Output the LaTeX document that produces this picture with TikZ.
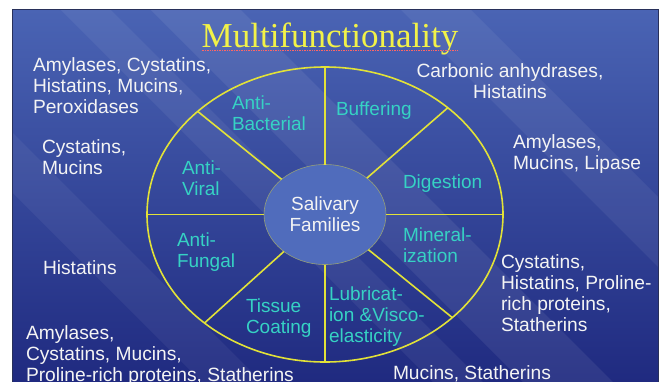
\documentclass[tikz,border=0pt]{standalone}
\usepackage{fontspec}
\setmainfont{Liberation Sans}
\newfontfamily\titlefont{Liberation Serif}
\usepackage{tikz}
\usetikzlibrary{shapes}
\usetikzlibrary{positioning}
\definecolor{slidetop}{RGB}{74,100,180}
\definecolor{slidebot}{RGB}{30,40,126}
\definecolor{slideedge}{RGB}{40,48,90}
\definecolor{rimyellow}{RGB}{226,226,56}
\definecolor{titleyellow}{RGB}{242,242,72}
\definecolor{labelteal}{RGB}{54,210,196}
\definecolor{hubblue}{RGB}{80,108,188}
\definecolor{hubedge}{RGB}{150,160,120}
\definecolor{offwhite}{RGB}{244,244,244}

\begin{document}
\begin{tikzpicture}[x=1pt, y=-1pt,
  every node/.style={inner sep=0pt, outer sep=0pt},
  famtext/.style={anchor=base west, align=left, text=offwhite, font=\fontsize{19.2}{21}\selectfont},
  funclabel/.style={anchor=base west, align=left, text=labelteal, font=\fontsize{19}{21}\selectfont},
  spoke/.style={color=rimyellow, line width=1.6pt}]
%
\fill[white] (0,0) rectangle (662,381);
\useasboundingbox (0,0) rectangle (662,381);

%
\begin{scope}
\clip (12,9) rectangle (658,395);
\shade[top color=slidetop, bottom color=slidebot] (12,9) rectangle (658,395);
\fill[white, opacity=0.06] (60,9) -- (110,9) -- (496,395) -- (446,395) -- cycle;
\fill[white, opacity=0.07] (150,9) -- (240,9) -- (626,395) -- (536,395) -- cycle;
\fill[white, opacity=0.06] (400,9) -- (470,9) -- (856,395) -- (786,395) -- cycle;
\fill[white, opacity=0.05] (-120,60) -- (-60,60) -- (275,395) -- (215,395) -- cycle;
\end{scope}
\draw[color=slideedge, line width=1pt] (12,395) -- (12,9) -- (658,9) -- (658,395);

%
\node[anchor=base, text=titleyellow, font=\titlefont\fontsize{35}{40}\selectfont](title) at (330,47) {Multifunctionality};
\draw[color=red!60!white, densely dotted, line width=0.7pt] ([yshift=-3pt]title.base west) -- ([yshift=-3pt]title.base east);

%
\node[ellipse, draw=rimyellow, line width=1.6pt, minimum width=356pt, minimum height=295pt](wheel) at (325,214.5) {};
\node[ellipse, fill=hubblue, draw=hubedge, line width=0.6pt, minimum width=122pt, minimum height=100pt, align=center, text=offwhite, font=\fontsize{19}{21}\selectfont](hub) at (325,214.5) {Salivary\\Families};

\foreach \a in {90,41,0,-39,-90,-138,180,141}
  \draw[spoke] (hub.\a) -- (wheel.\a);

% last-line baselines
\node[funclabel](antibact) at (232,130) {Anti-\\Bacterial};
\node[funclabel](buffer) at (336,115) {Buffering};
\node[funclabel](antiviral) at (182,195) {Anti-\\Viral};
\node[funclabel](digest) at (403,188) {Digestion};
\node[funclabel](mineral) at (403,262) {Mineral-\\ization};
\node[funclabel](antifung) at (177,267) {Anti-\\Fungal};
\node[funclabel](tissue) at (246,333) {Tissue\\Coating};
\node[funclabel](lubric) at (329,342) {Lubricat-\\ion \&Visco-\\elasticity};

%
\node[famtext](bactfam) at (33,113) {Amylases, Cystatins,\\Histatins, Mucins,\\Peroxidases};
\node[famtext, align=center, anchor=base](buffam) at (510,98) {Carbonic anhydrases,\\Histatins};
\node[famtext](viralfam) at (42,174) {Cystatins,\\Mucins};
\node[famtext](digestfam) at (513,169) {Amylases,\\Mucins, Lipase};
\node[famtext](fungfam) at (43,274) {Histatins};
\node[famtext](mineralfam) at (501,331) {Cystatins,\\Histatins, Proline-\\rich proteins,\\Statherins};
\node[famtext](tissuefam) at (26,381) {Amylases,\\Cystatins, Mucins,\\Proline-rich proteins, Statherins};
\node[famtext](lubricfam) at (393,379) {Mucins, Statherins};

\end{tikzpicture}
\end{document}
